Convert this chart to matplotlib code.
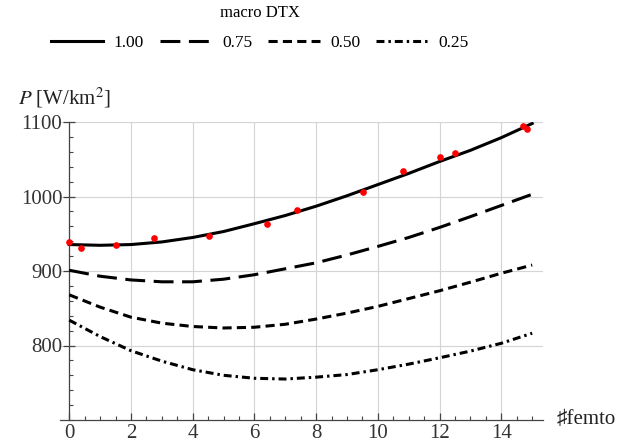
import matplotlib
matplotlib.use("Agg")
import matplotlib.pyplot as plt
from matplotlib.ticker import MultipleLocator

plt.rcParams["font.family"] = ["Liberation Serif", "DejaVu Sans"]
plt.rcParams["mathtext.fontset"] = "stix"

# fitted curves at whole femto counts
femto = [0, 1, 2, 3, 4, 5, 6, 7, 8, 9, 10, 11, 12, 13, 14, 15]
p_100 = [935.5, 934.5, 935.5, 939, 945, 953, 963.5, 974.5, 987, 1001, 1016, 1031, 1047, 1062, 1079, 1098]
p_075 = [901, 893, 888, 885.5, 885.5, 889, 895, 903, 911, 921.5, 933, 945, 958.5, 973, 988, 1003]
p_050 = [868, 851.5, 838, 830, 825.5, 823.5, 824.5, 828.5, 835.5, 843.5, 852.5, 863, 873.5, 885, 897, 908]
p_025 = [834, 812, 793, 779, 767.5, 760, 756, 755, 757.5, 761, 767.5, 775, 783.5, 792.5, 803, 816.5]

# measured points
meas_x = [0, 0.39, 1.52, 2.74, 4.53, 6.41, 7.37, 9.52, 10.82, 12.02, 12.5, 14.71, 14.82]
meas_p = [939.5, 930.5, 935.5, 944, 946.5, 963.5, 982, 1005.5, 1034.5, 1053, 1059, 1094.5, 1091]

y_ticks = [800, 900, 1000, 1100]

series = [("1.00", p_100, "-"),
          ("0.75", p_075, (0, (6.5, 2.8))),
          ("0.50", p_050, (0, (3.0, 1.7))),
          ("0.25", p_025, (0, (2.6, 1.3, 0.8, 1.3)))]

fig = plt.figure(figsize=(6.44, 4.47), dpi=100)
ax = fig.add_axes([60 / 644, 1 - 420 / 447, 483 / 644, 298 / 447])

for lab, vals, ls in series:
    ax.plot(femto, vals, color="black", lw=2.2, ls=ls, label=lab, zorder=3)
ax.plot(meas_x, meas_p, "o", color="red", ms=4.8, mec="none", zorder=4)

ax.set_xlim(-0.3, 15.35)
ax.set_ylim(700, 1100)
ax.xaxis.set_major_locator(MultipleLocator(2))
ax.xaxis.set_minor_locator(MultipleLocator(0.5))
ax.set_yticks(y_ticks)
ax.yaxis.set_minor_locator(MultipleLocator(20))
ax.grid(True, which="major", color="#d4d4d4", lw=0.8, zorder=0)

ax.spines["top"].set_visible(False)
ax.spines["right"].set_visible(False)
ax.spines["left"].set_position(("data", 0))
for s in ("left", "bottom"):
    ax.spines[s].set_color("#444444")
    ax.spines[s].set_linewidth(0.9)

ax.tick_params(axis="x", which="major", direction="in", length=5, width=0.9,
               color="#444444", labelsize=15, labelcolor="#333333", pad=3)
ax.tick_params(axis="x", which="minor", direction="in", length=3, width=0.8, color="#444444")
ax.tick_params(axis="y", which="major", direction="inout", length=8, width=0.9,
               color="#444444", labelsize=15, labelcolor="#333333", pad=1)
ax.tick_params(axis="y", which="minor", direction="in", length=3, width=0.8, color="#444444")

fig.text(18 / 644, 1 - 98 / 447, r"$P$ [W/km$^2$]", fontsize=15, color="#222222",
         ha="left", va="center")
fig.text(557 / 644, 1 - 419 / 447, "\u266ffemto", fontsize=15, color="#222222",
         ha="left", va="center")

leg = fig.legend(loc="center", bbox_to_anchor=(260 / 644, 1 - 28 / 447), ncol=4,
                 frameon=False, title="macro DTX", fontsize=12.5, title_fontsize=12,
                 handlelength=3.0, handletextpad=0.6, columnspacing=0.9,
                 labelspacing=0.8)

fig.savefig("out.png", dpi=100)
